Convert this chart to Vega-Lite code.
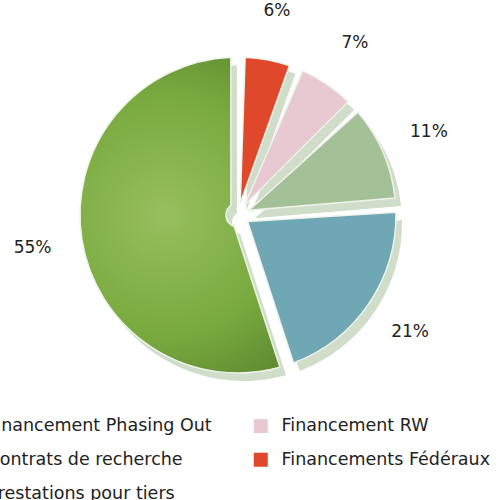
{
  "$schema": "https://vega.github.io/schema/vega-lite/v6.json",
  "width": 476,
  "height": 430,
  "autosize": {"type": "none"},
  "padding": {"left": 0, "top": 0, "right": 23, "bottom": 70},
  "background": "white",
  "config": {"view": {"stroke": null}},
  "data": {
    "values": [
      {"cat": "Financements Fédéraux", "value": 6, "label": "6%", "rank": 1},
      {"cat": "Financement RW", "value": 7, "label": "7%", "rank": 2},
      {"cat": "Prestations pour tiers", "value": 11, "label": "11%", "rank": 3},
      {"cat": "Contrats de recherche", "value": 21, "label": "21%", "rank": 4},
      {"cat": "Financement Phasing Out", "value": 55, "label": "55%", "rank": 5}
    ]
  },
  "layer": [
    {
      "mark": {"type": "arc", "radius": 158, "radius2": 12, "padAngle": 0.09, "xOffset": 6, "yOffset": 8, "fill": "#CFDDC9"},
      "encoding": {
        "theta": {"field": "value", "type": "quantitative", "stack": true},
        "order": {"field": "rank", "type": "ordinal"}
      }
    },
    {
      "mark": {"type": "arc", "radius": 158, "radius2": 12, "padAngle": 0.09, "stroke": "#EEF3EA", "strokeWidth": 1.5},
      "encoding": {
        "theta": {"field": "value", "type": "quantitative", "stack": true},
        "order": {"field": "rank", "type": "ordinal"},
        "color": {
          "condition": {
            "test": "datum.cat === 'Financement Phasing Out'",
            "value": {"gradient": "radial", "x1": 0.45, "y1": 0.5, "r1": 0, "x2": 0.45, "y2": 0.5, "r2": 0.7,
              "stops": [{"offset": 0, "color": "#97BF5E"}, {"offset": 0.55, "color": "#78A93E"}, {"offset": 1, "color": "#557D2B"}]}
          },
          "field": "cat",
          "type": "nominal",
          "scale": {
            "domain": ["Financement Phasing Out", "Contrats de recherche", "Prestations pour tiers", "Financement RW", "Financements Fédéraux"],
            "range": ["#6E9E3A", "#6FA7B5", "#A4C097", "#E8C8D1", "#E0482B"]
          },
          "legend": {
            "title": null,
            "orient": "none",
            "legendX": -42,
            "legendY": 417,
            "direction": "vertical",
            "columns": 2,
            "columnPadding": 40,
            "rowPadding": 15,
            "symbolType": "square",
            "symbolSize": 196,
            "symbolStrokeWidth": 0,
            "labelFont": "DejaVu Sans",
            "labelFontSize": 17.5,
            "labelColor": "#222222",
            "labelOffset": 12,
            "labelLimit": 400,
            "encode": {
              "symbols": {
                "update": {
                  "fill": {"signal": "datum.value === 'Financement RW' ? '#F7C6D9' : datum.value === 'Financements Fédéraux' ? '#ED1C24' : scale('color', datum.value)"}
                }
              }
            }
          }
        }
      }
    },
    {
      "mark": {"type": "text", "radius": 208, "font": "DejaVu Sans", "fontSize": 17, "color": "#222222"},
      "encoding": {
        "theta": {"field": "value", "type": "quantitative", "stack": true},
        "order": {"field": "rank", "type": "ordinal"},
        "text": {"field": "label", "type": "nominal"}
      }
    }
  ]
}
